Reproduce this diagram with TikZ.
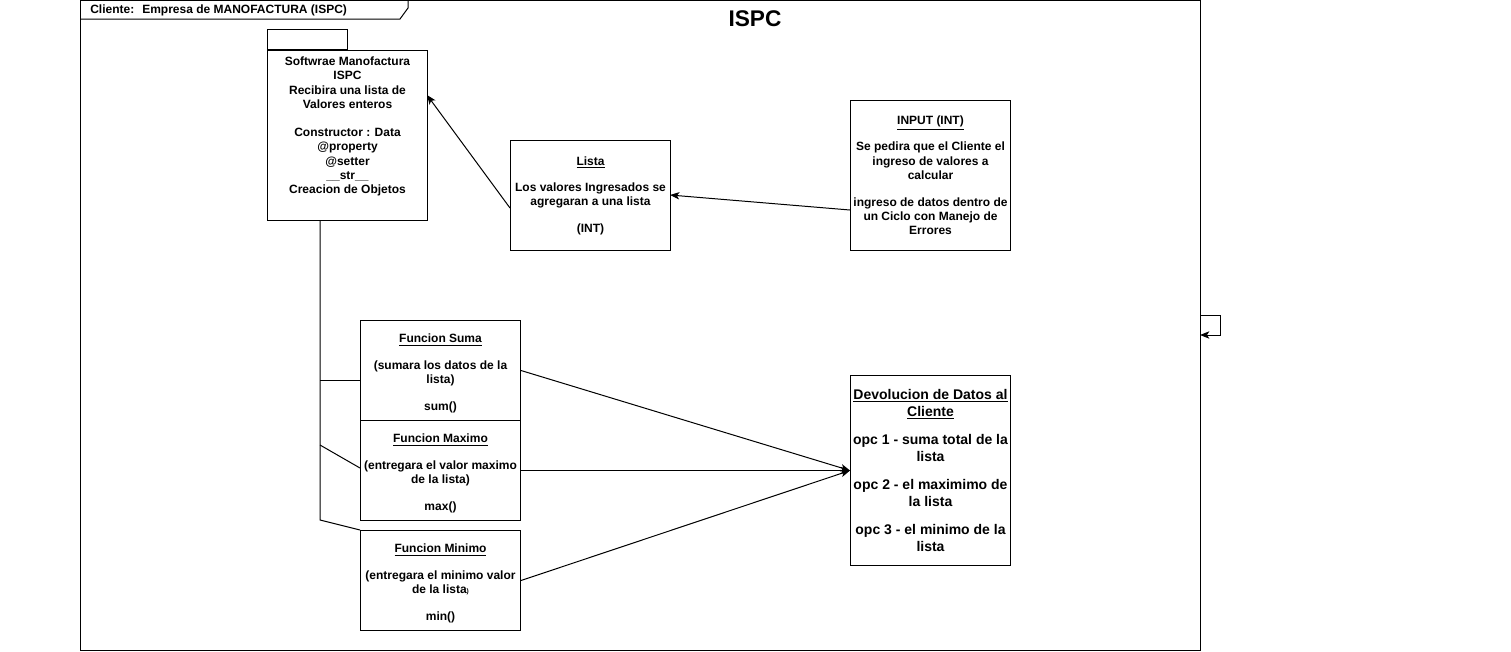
\documentclass[tikz,border=0pt]{standalone}
\usepackage{fontspec}
\setmainfont{Liberation Sans}
\usetikzlibrary{arrows.meta,calc}
\tikzset{
  lw/.style={line width=0.75pt},
  box/.style={draw,lw,minimum width=120pt,inner sep=0pt,align=center,font=\fontsize{9pt}{10.8pt}\selectfont\bfseries},
  arr/.style={lw,-{Stealth[length=7pt,width=5.5pt,inset=1.8pt]}},
  conn/.style={lw},
}
\newcommand{\topgap}{\mbox{}\\[0pt]}
\begin{document}
\begin{tikzpicture}[x=0.75pt,y=-0.75pt]
\useasboundingbox (0,0) rectangle (1511,651);
% frame
\node[draw,lw,minimum width=840pt,minimum height=487.5pt,inner sep=0pt,anchor=north west] (frame) at (80,0) {};
\draw[lw] (80,0) -- (408,0) -- (408,8) -- (400,19) -- (80,19);
\node[anchor=west,inner sep=0pt,font=\fontsize{9pt}{10.8pt}\selectfont\bfseries] (tab) at (90,10) {Cliente:\hspace{6pt}Empresa de MANOFACTURA (ISPC)};
\node[font=\fontsize{17pt}{20pt}\selectfont\bfseries,inner sep=0pt] (title) at (755,19) {ISPC};
% software box
\node[draw,lw,minimum width=60pt,minimum height=15pt,inner sep=0pt,anchor=south west] (swtab) at (267,50) {};
\node[box,minimum height=127.5pt,anchor=north west] (sw) at (267,50) {Softwrae Manofactura\\ISPC\\Recibira una lista de\\Valores enteros\\[10pt]Constructor : Data\\@property\\@setter\\\_\_str\_\_\\Creacion de Objetos\\[4.5pt]\mbox{}};
% lista
\node[box,minimum height=82.5pt,anchor=north west] (lista) at (510,140) {\underline{Lista}\\[9pt]Los valores Ingresados se\\agregaran a una lista\\[9pt](INT)};
% input
\node[box,minimum height=112.5pt,anchor=north west] (inp) at (850,100) {\underline{INPUT (INT)}\\[9pt]Se pedira que el Cliente el\\ingreso de valores a\\calcular\\[9pt]ingreso de datos dentro de\\un Ciclo con Manejo de\\Errores};
% funciones
\node[box,minimum height=75pt,anchor=north west] (suma) at (360,320) {\topgap\underline{Funcion Suma}\\[9pt](sumara los datos de la\\lista)\\[9pt]sum()};
\node[box,minimum height=75pt,anchor=north west] (maxi) at (360,420) {\topgap\underline{Funcion Maximo}\\[9pt](entregara el valor maximo\\de la lista)\\[9pt]max()};
\node[box,minimum height=75pt,anchor=north west] (mini) at (360,530) {\topgap\underline{Funcion Minimo}\\[9pt](entregara el minimo valor\\de la lista{\fontsize{5pt}{6pt}\selectfont)}\\[9pt]min()};
% devolucion
\node[box,minimum height=142.5pt,anchor=north west,font=\fontsize{10.5pt}{12.9pt}\selectfont\bfseries] (dev) at (850,375) {\underline{Devolucion de Datos al}\\\underline{Cliente}\\[8pt]opc 1 - suma total de la\\lista\\[8pt]opc 2 - el maximimo de\\la lista\\[8pt]opc 3 - el minimo de la\\lista};
% coordinates
\coordinate (inpout) at (850,210);
\coordinate (listain) at (670,195);
\coordinate (listaout) at (510,208);
\coordinate (swin) at (427,95);
\coordinate (t0) at (320,220);
\coordinate (t1) at (320,380);
\coordinate (t2) at (320,445);
\coordinate (t3) at (320,520);
\coordinate (l0) at (1200,315);
\coordinate (l1) at (1220,315);
\coordinate (l2) at (1220,335);
\coordinate (l3) at (1200,335);
% connectors
\draw[arr] (inpout) -- (listain);
\draw[arr] (listaout) -- (swin);
\draw[conn] (t0) -- (t3) -- (mini.north west);
\draw[conn] (t1) -- (t1 -| suma.west);
\draw[conn] (t2) -- (360,468);
\draw[arr] (suma.east) -- (dev.west);
\draw[arr] (maxi.east) -- (dev.west);
\draw[arr] (mini.east) -- (dev.west);
\draw[arr] (l0) -- (l1) -- (l2) -- (l3);
\end{tikzpicture}
\end{document}
